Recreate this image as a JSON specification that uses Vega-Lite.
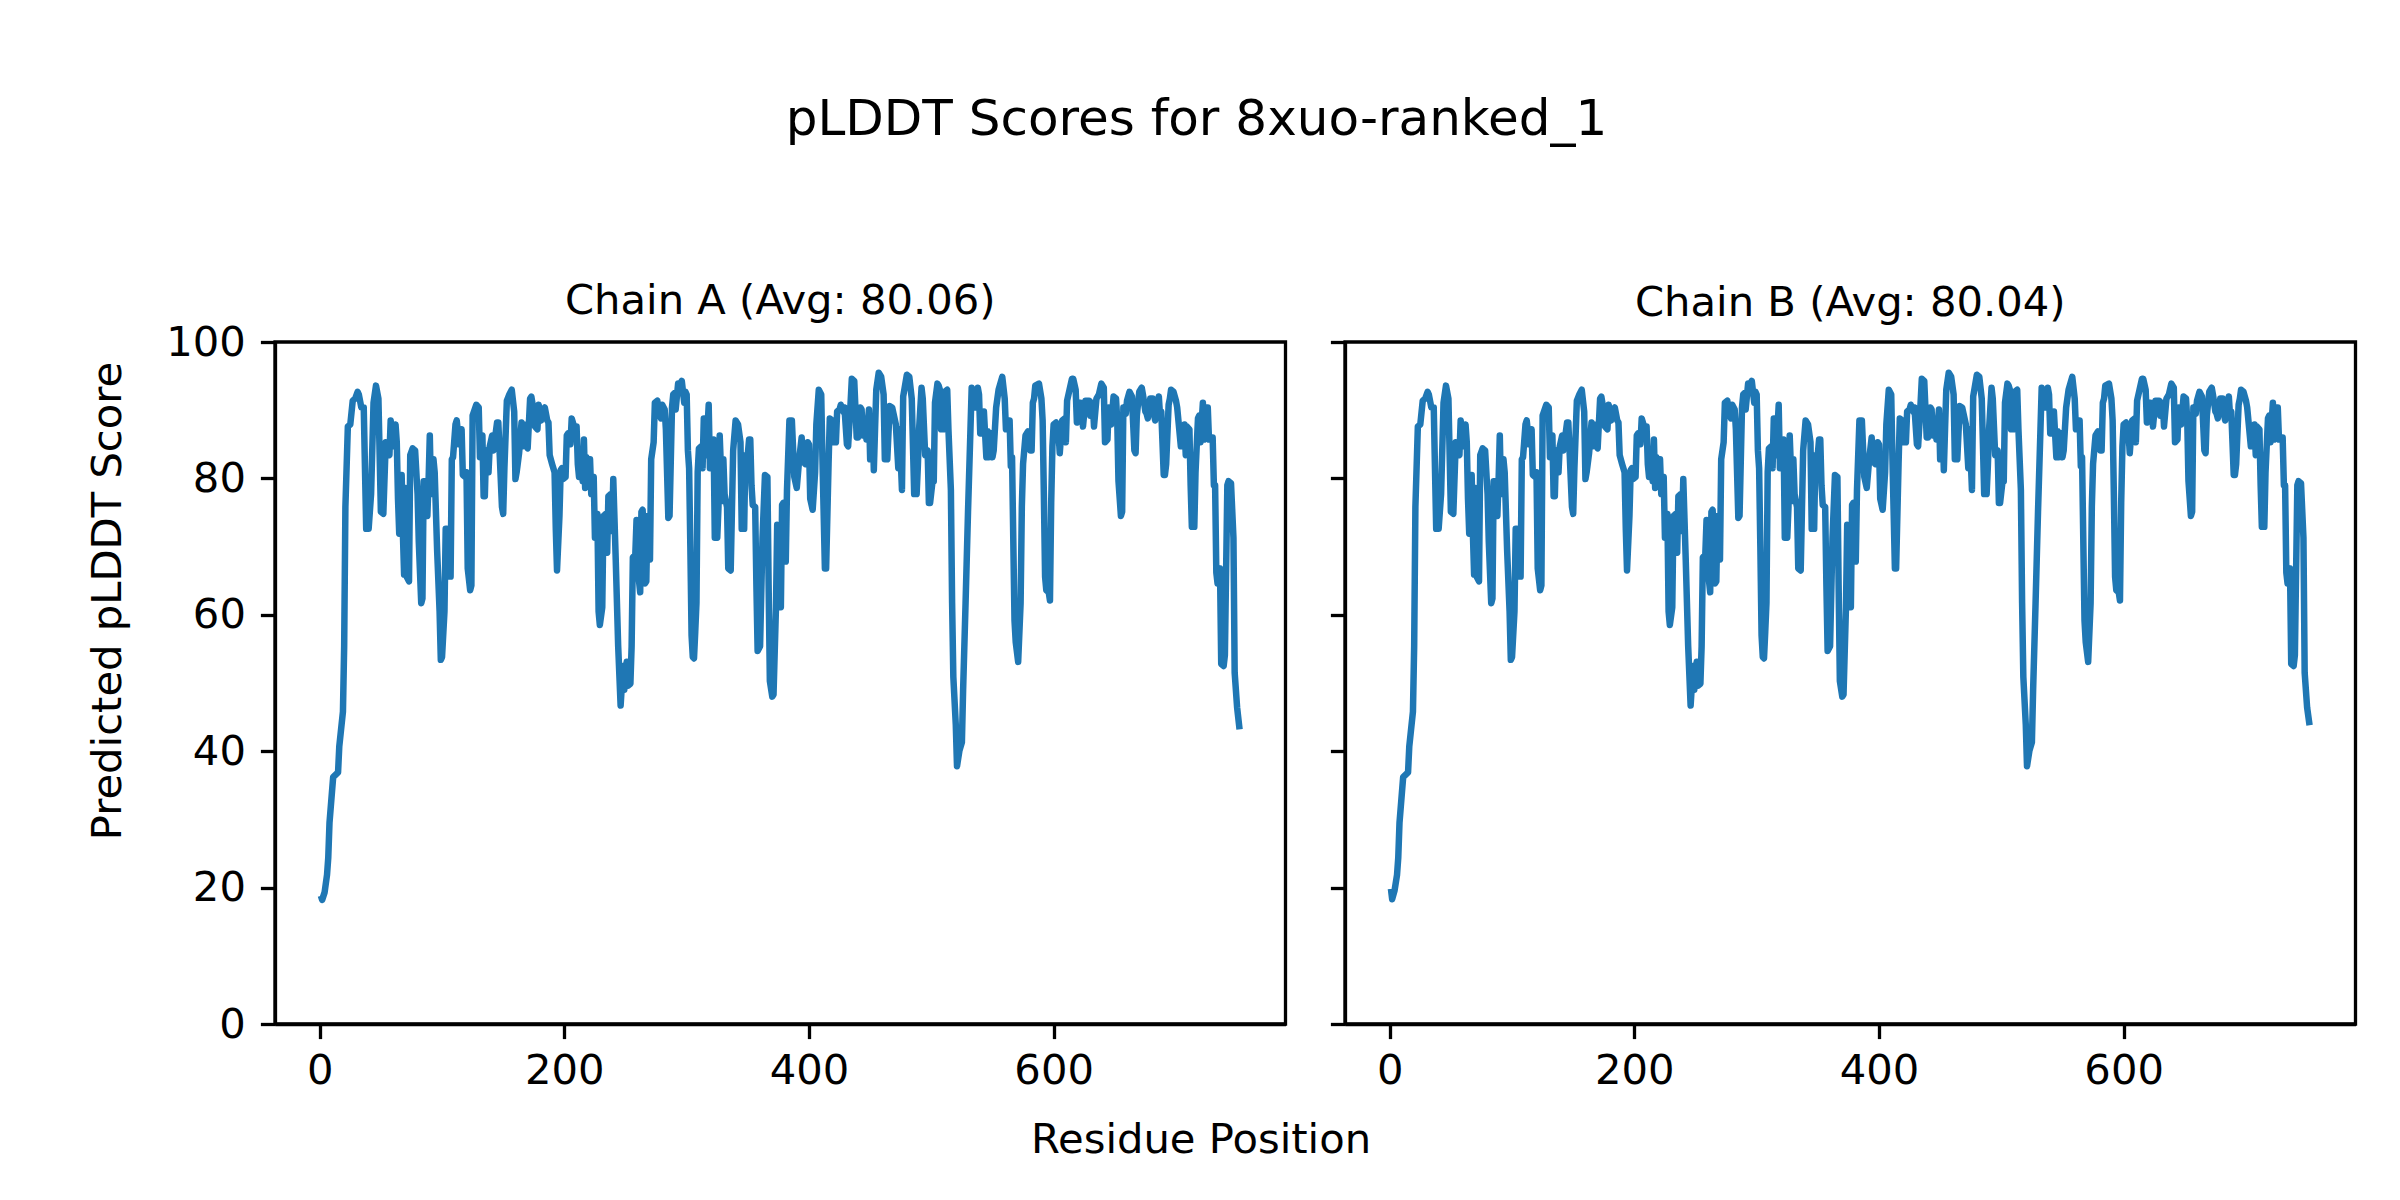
{
  "$schema": "https://vega.github.io/schema/vega-lite/v6.json",
  "background": "white",
  "padding": {"left": 85, "top": 95, "right": 40, "bottom": 40},
  "title": {"text": "pLDDT Scores for 8xuo-ranked_1", "fontSize": 50, "font": "DejaVu Sans", "fontWeight": "normal", "color": "black", "anchor": "middle", "baseline": "alphabetic", "offset": 94, "dx": -25},
  "bounds": "flush",
  "spacing": 59,
  "datasets": {
    "A": [
{"residue":1,"plddt":18.8},{"residue":2,"plddt":18.2},{"residue":4,"plddt":19.3},{"residue":6,"plddt":21.9},{"residue":7,"plddt":24.4},{"residue":8,"plddt":29.5},{"residue":11,"plddt":36.2},{"residue":15,"plddt":36.9},{"residue":16,"plddt":40.7},{"residue":19,"plddt":45.8},{"residue":20,"plddt":55.4},{"residue":21,"plddt":75.8},{"residue":23,"plddt":87.6},{"residue":25,"plddt":87.9},{"residue":27,"plddt":91.4},{"residue":29,"plddt":91.7},{"residue":31,"plddt":92.7},{"residue":32,"plddt":92.3},{"residue":34,"plddt":90.4},{"residue":36,"plddt":90.4},{"residue":38,"plddt":72.6},{"residue":40,"plddt":72.6},{"residue":42,"plddt":77.7},{"residue":44,"plddt":91.1},{"residue":46,"plddt":93.6},{"residue":48,"plddt":91.7},{"residue":50,"plddt":75.1},{"residue":52,"plddt":74.8},{"residue":54,"plddt":85.3},{"residue":55,"plddt":85.0},{"residue":57,"plddt":83.4},{"residue":58,"plddt":88.5},{"residue":60,"plddt":84.7},{"residue":62,"plddt":87.9},{"residue":63,"plddt":85.3},{"residue":64,"plddt":77.0},{"residue":65,"plddt":71.9},{"residue":67,"plddt":80.5},{"residue":68,"plddt":71.9},{"residue":69,"plddt":65.9},{"residue":70,"plddt":78.6},{"residue":71,"plddt":65.6},{"residue":73,"plddt":64.9},{"residue":74,"plddt":83.4},{"residue":76,"plddt":84.4},{"residue":78,"plddt":84.1},{"residue":80,"plddt":77.7},{"residue":81,"plddt":70.7},{"residue":83,"plddt":61.7},{"residue":84,"plddt":62.4},{"residue":85,"plddt":79.6},{"residue":87,"plddt":79.6},{"residue":88,"plddt":74.5},{"residue":89,"plddt":79.6},{"residue":90,"plddt":86.3},{"residue":91,"plddt":77.7},{"residue":93,"plddt":82.8},{"residue":94,"plddt":80.9},{"residue":96,"plddt":69.4},{"residue":98,"plddt":60.5},{"residue":99,"plddt":53.4},{"residue":100,"plddt":53.8},{"residue":102,"plddt":60.5},{"residue":103,"plddt":72.6},{"residue":104,"plddt":72.6},{"residue":106,"plddt":65.6},{"residue":107,"plddt":65.6},{"residue":108,"plddt":82.8},{"residue":109,"plddt":83.1},{"residue":111,"plddt":87.9},{"residue":112,"plddt":88.5},{"residue":114,"plddt":85.0},{"residue":116,"plddt":87.2},{"residue":117,"plddt":80.5},{"residue":119,"plddt":80.2},{"residue":120,"plddt":80.9},{"residue":121,"plddt":66.8},{"residue":123,"plddt":63.6},{"residue":124,"plddt":64.3},{"residue":125,"plddt":89.2},{"residue":128,"plddt":90.8},{"residue":130,"plddt":90.4},{"residue":131,"plddt":83.1},{"residue":133,"plddt":86.3},{"residue":134,"plddt":77.4},{"residue":135,"plddt":77.4},{"residue":136,"plddt":84.1},{"residue":138,"plddt":80.9},{"residue":139,"plddt":84.7},{"residue":141,"plddt":86.3},{"residue":142,"plddt":84.1},{"residue":145,"plddt":88.2},{"residue":146,"plddt":88.2},{"residue":147,"plddt":84.1},{"residue":149,"plddt":75.8},{"residue":150,"plddt":74.8},{"residue":151,"plddt":81.5},{"residue":153,"plddt":91.4},{"residue":155,"plddt":92.3},{"residue":157,"plddt":93.0},{"residue":159,"plddt":89.8},{"residue":160,"plddt":79.9},{"residue":161,"plddt":80.9},{"residue":163,"plddt":83.7},{"residue":165,"plddt":88.2},{"residue":166,"plddt":84.7},{"residue":167,"plddt":87.9},{"residue":169,"plddt":84.7},{"residue":170,"plddt":84.4},{"residue":172,"plddt":91.7},{"residue":173,"plddt":92.0},{"residue":175,"plddt":89.8},{"residue":176,"plddt":87.6},{"residue":178,"plddt":87.2},{"residue":179,"plddt":90.8},{"residue":181,"plddt":88.5},{"residue":182,"plddt":89.8},{"residue":184,"plddt":90.4},{"residue":186,"plddt":88.5},{"residue":187,"plddt":88.2},{"residue":188,"plddt":83.4},{"residue":190,"plddt":82.1},{"residue":192,"plddt":80.9},{"residue":193,"plddt":72.6},{"residue":194,"plddt":66.5},{"residue":196,"plddt":74.5},{"residue":197,"plddt":81.2},{"residue":198,"plddt":81.5},{"residue":199,"plddt":79.9},{"residue":201,"plddt":80.2},{"residue":202,"plddt":86.3},{"residue":203,"plddt":86.6},{"residue":205,"plddt":85.0},{"residue":206,"plddt":88.8},{"residue":208,"plddt":87.6},{"residue":210,"plddt":87.6},{"residue":211,"plddt":82.1},{"residue":212,"plddt":80.2},{"residue":213,"plddt":83.1},{"residue":215,"plddt":79.6},{"residue":216,"plddt":85.7},{"residue":217,"plddt":78.6},{"residue":218,"plddt":83.1},{"residue":220,"plddt":79.0},{"residue":221,"plddt":82.8},{"residue":222,"plddt":77.7},{"residue":224,"plddt":80.2},{"residue":225,"plddt":71.3},{"residue":227,"plddt":74.8},{"residue":228,"plddt":60.5},{"residue":229,"plddt":58.5},{"residue":231,"plddt":61.1},{"residue":232,"plddt":74.5},{"residue":234,"plddt":74.8},{"residue":235,"plddt":69.1},{"residue":236,"plddt":77.4},{"residue":238,"plddt":77.7},{"residue":239,"plddt":72.3},{"residue":240,"plddt":79.9},{"residue":242,"plddt":68.1},{"residue":244,"plddt":55.4},{"residue":246,"plddt":46.7},{"residue":248,"plddt":52.5},{"residue":249,"plddt":49.0},{"residue":251,"plddt":53.1},{"residue":252,"plddt":49.6},{"residue":254,"plddt":49.9},{"residue":255,"plddt":55.4},{"residue":256,"plddt":68.4},{"residue":258,"plddt":68.8},{"residue":259,"plddt":73.9},{"residue":260,"plddt":66.8},{"residue":262,"plddt":63.3},{"residue":263,"plddt":75.1},{"residue":264,"plddt":75.4},{"residue":266,"plddt":64.6},{"residue":267,"plddt":64.9},{"residue":268,"plddt":74.5},{"residue":270,"plddt":68.1},{"residue":271,"plddt":82.8},{"residue":273,"plddt":85.3},{"residue":274,"plddt":91.1},{"residue":276,"plddt":91.4},{"residue":277,"plddt":89.8},{"residue":279,"plddt":88.8},{"residue":280,"plddt":90.8},{"residue":282,"plddt":90.1},{"residue":283,"plddt":87.2},{"residue":285,"plddt":74.2},{"residue":286,"plddt":74.5},{"residue":288,"plddt":90.4},{"residue":289,"plddt":92.3},{"residue":290,"plddt":92.5},{"residue":291,"plddt":90.1},{"residue":293,"plddt":93.9},{"residue":295,"plddt":93.9},{"residue":296,"plddt":94.3},{"residue":298,"plddt":91.1},{"residue":299,"plddt":92.7},{"residue":300,"plddt":92.3},{"residue":301,"plddt":84.1},{"residue":302,"plddt":81.5},{"residue":303,"plddt":70.0},{"residue":304,"plddt":57.0},{"residue":305,"plddt":53.8},{"residue":306,"plddt":53.6},{"residue":307,"plddt":57.5},{"residue":308,"plddt":61.7},{"residue":309,"plddt":80.9},{"residue":310,"plddt":84.4},{"residue":312,"plddt":84.7},{"residue":313,"plddt":81.5},{"residue":314,"plddt":88.8},{"residue":315,"plddt":88.8},{"residue":316,"plddt":83.4},{"residue":317,"plddt":87.2},{"residue":318,"plddt":90.8},{"residue":319,"plddt":81.5},{"residue":321,"plddt":82.1},{"residue":322,"plddt":85.7},{"residue":323,"plddt":71.3},{"residue":325,"plddt":71.3},{"residue":326,"plddt":75.8},{"residue":327,"plddt":86.3},{"residue":329,"plddt":76.7},{"residue":330,"plddt":82.8},{"residue":331,"plddt":77.7},{"residue":333,"plddt":75.8},{"residue":334,"plddt":66.8},{"residue":336,"plddt":66.5},{"residue":338,"plddt":84.1},{"residue":340,"plddt":88.5},{"residue":342,"plddt":87.9},{"residue":344,"plddt":85.3},{"residue":345,"plddt":72.6},{"residue":347,"plddt":72.6},{"residue":348,"plddt":83.4},{"residue":349,"plddt":81.5},{"residue":351,"plddt":85.7},{"residue":352,"plddt":85.7},{"residue":353,"plddt":79.0},{"residue":354,"plddt":76.1},{"residue":356,"plddt":75.8},{"residue":357,"plddt":64.3},{"residue":358,"plddt":54.7},{"residue":360,"plddt":55.4},{"residue":362,"plddt":71.3},{"residue":364,"plddt":80.5},{"residue":366,"plddt":80.2},{"residue":367,"plddt":64.3},{"residue":368,"plddt":50.3},{"residue":370,"plddt":48.0},{"residue":371,"plddt":48.3},{"residue":373,"plddt":61.1},{"residue":374,"plddt":73.2},{"residue":375,"plddt":72.9},{"residue":377,"plddt":61.1},{"residue":378,"plddt":76.1},{"residue":379,"plddt":76.4},{"residue":381,"plddt":67.8},{"residue":382,"plddt":78.3},{"residue":384,"plddt":88.5},{"residue":386,"plddt":88.5},{"residue":388,"plddt":80.2},{"residue":390,"plddt":78.6},{"residue":392,"plddt":82.8},{"residue":394,"plddt":86.0},{"residue":395,"plddt":82.5},{"residue":397,"plddt":82.1},{"residue":399,"plddt":85.3},{"residue":400,"plddt":85.0},{"residue":401,"plddt":77.0},{"residue":403,"plddt":75.4},{"residue":405,"plddt":80.9},{"residue":406,"plddt":87.9},{"residue":408,"plddt":93.0},{"residue":410,"plddt":92.3},{"residue":411,"plddt":82.8},{"residue":413,"plddt":66.8},{"residue":414,"plddt":66.8},{"residue":416,"plddt":82.1},{"residue":417,"plddt":88.8},{"residue":419,"plddt":88.5},{"residue":420,"plddt":85.3},{"residue":422,"plddt":85.3},{"residue":423,"plddt":89.8},{"residue":425,"plddt":90.1},{"residue":426,"plddt":90.8},{"residue":428,"plddt":89.8},{"residue":429,"plddt":90.4},{"residue":431,"plddt":85.0},{"residue":432,"plddt":84.7},{"residue":434,"plddt":91.1},{"residue":435,"plddt":94.6},{"residue":437,"plddt":94.3},{"residue":439,"plddt":86.0},{"residue":440,"plddt":86.0},{"residue":442,"plddt":90.4},{"residue":443,"plddt":90.1},{"residue":444,"plddt":86.3},{"residue":446,"plddt":87.6},{"residue":447,"plddt":85.7},{"residue":449,"plddt":90.1},{"residue":450,"plddt":82.8},{"residue":452,"plddt":88.5},{"residue":453,"plddt":81.2},{"residue":454,"plddt":87.2},{"residue":455,"plddt":93.0},{"residue":457,"plddt":95.5},{"residue":459,"plddt":94.9},{"residue":461,"plddt":92.3},{"residue":462,"plddt":82.8},{"residue":464,"plddt":82.8},{"residue":466,"plddt":90.6},{"residue":468,"plddt":90.4},{"residue":471,"plddt":87.9},{"residue":473,"plddt":81.5},{"residue":474,"plddt":87.2},{"residue":476,"plddt":78.3},{"residue":477,"plddt":92.0},{"residue":480,"plddt":95.2},{"residue":482,"plddt":94.9},{"residue":484,"plddt":91.7},{"residue":486,"plddt":77.7},{"residue":488,"plddt":77.7},{"residue":489,"plddt":81.8},{"residue":490,"plddt":87.2},{"residue":492,"plddt":93.3},{"residue":493,"plddt":91.7},{"residue":495,"plddt":83.4},{"residue":497,"plddt":84.1},{"residue":498,"plddt":76.4},{"residue":499,"plddt":76.4},{"residue":501,"plddt":79.6},{"residue":502,"plddt":79.6},{"residue":503,"plddt":91.1},{"residue":505,"plddt":93.9},{"residue":506,"plddt":93.6},{"residue":507,"plddt":93.0},{"residue":508,"plddt":87.2},{"residue":510,"plddt":87.2},{"residue":511,"plddt":92.7},{"residue":513,"plddt":93.0},{"residue":514,"plddt":87.2},{"residue":516,"plddt":78.3},{"residue":517,"plddt":61.7},{"residue":518,"plddt":50.9},{"residue":520,"plddt":43.9},{"residue":521,"plddt":37.8},{"residue":523,"plddt":40.1},{"residue":525,"plddt":41.3},{"residue":526,"plddt":49.0},{"residue":528,"plddt":61.7},{"residue":530,"plddt":75.1},{"residue":532,"plddt":87.2},{"residue":533,"plddt":93.3},{"residue":535,"plddt":90.4},{"residue":536,"plddt":90.4},{"residue":538,"plddt":93.3},{"residue":539,"plddt":92.3},{"residue":540,"plddt":86.6},{"residue":542,"plddt":86.6},{"residue":543,"plddt":89.8},{"residue":545,"plddt":83.1},{"residue":546,"plddt":86.9},{"residue":547,"plddt":83.1},{"residue":549,"plddt":86.6},{"residue":550,"plddt":83.1},{"residue":551,"plddt":84.1},{"residue":553,"plddt":90.4},{"residue":555,"plddt":93.0},{"residue":558,"plddt":94.9},{"residue":560,"plddt":91.7},{"residue":561,"plddt":87.2},{"residue":562,"plddt":88.5},{"residue":564,"plddt":88.5},{"residue":565,"plddt":81.8},{"residue":566,"plddt":83.1},{"residue":568,"plddt":59.2},{"residue":569,"plddt":56.0},{"residue":571,"plddt":53.1},{"residue":573,"plddt":61.7},{"residue":574,"plddt":75.8},{"residue":575,"plddt":82.1},{"residue":577,"plddt":86.3},{"residue":578,"plddt":86.6},{"residue":579,"plddt":86.9},{"residue":581,"plddt":84.1},{"residue":582,"plddt":84.1},{"residue":583,"plddt":91.1},{"residue":584,"plddt":91.7},{"residue":585,"plddt":93.6},{"residue":588,"plddt":93.9},{"residue":590,"plddt":91.7},{"residue":591,"plddt":88.5},{"residue":592,"plddt":77.7},{"residue":593,"plddt":65.6},{"residue":594,"plddt":63.6},{"residue":596,"plddt":63.3},{"residue":597,"plddt":62.1},{"residue":598,"plddt":76.4},{"residue":599,"plddt":84.7},{"residue":600,"plddt":87.9},{"residue":602,"plddt":88.2},{"residue":604,"plddt":86.6},{"residue":605,"plddt":83.7},{"residue":607,"plddt":88.5},{"residue":609,"plddt":88.8},{"residue":610,"plddt":85.3},{"residue":611,"plddt":91.4},{"residue":613,"plddt":93.0},{"residue":615,"plddt":94.6},{"residue":616,"plddt":94.6},{"residue":618,"plddt":93.0},{"residue":619,"plddt":88.2},{"residue":621,"plddt":91.1},{"residue":622,"plddt":91.1},{"residue":624,"plddt":87.6},{"residue":626,"plddt":91.4},{"residue":629,"plddt":91.4},{"residue":630,"plddt":89.2},{"residue":632,"plddt":91.1},{"residue":633,"plddt":87.6},{"residue":635,"plddt":91.7},{"residue":637,"plddt":92.3},{"residue":639,"plddt":93.9},{"residue":641,"plddt":93.3},{"residue":642,"plddt":85.3},{"residue":644,"plddt":85.7},{"residue":645,"plddt":90.4},{"residue":647,"plddt":87.9},{"residue":649,"plddt":92.0},{"residue":651,"plddt":91.7},{"residue":652,"plddt":88.5},{"residue":653,"plddt":79.6},{"residue":655,"plddt":74.5},{"residue":656,"plddt":75.1},{"residue":657,"plddt":90.4},{"residue":659,"plddt":89.5},{"residue":660,"plddt":91.4},{"residue":662,"plddt":92.7},{"residue":664,"plddt":92.0},{"residue":666,"plddt":84.1},{"residue":667,"plddt":83.7},{"residue":668,"plddt":89.2},{"residue":670,"plddt":92.7},{"residue":672,"plddt":93.3},{"residue":673,"plddt":92.3},{"residue":675,"plddt":89.8},{"residue":676,"plddt":89.5},{"residue":677,"plddt":88.8},{"residue":679,"plddt":91.7},{"residue":681,"plddt":91.7},{"residue":682,"plddt":89.5},{"residue":683,"plddt":88.5},{"residue":686,"plddt":92.0},{"residue":687,"plddt":89.2},{"residue":688,"plddt":89.8},{"residue":690,"plddt":80.5},{"residue":691,"plddt":80.5},{"residue":692,"plddt":82.1},{"residue":694,"plddt":90.8},{"residue":695,"plddt":91.7},{"residue":696,"plddt":93.0},{"residue":698,"plddt":92.7},{"residue":700,"plddt":91.4},{"residue":701,"plddt":90.4},{"residue":702,"plddt":88.5},{"residue":704,"plddt":84.7},{"residue":705,"plddt":84.7},{"residue":707,"plddt":87.9},{"residue":708,"plddt":83.4},{"residue":709,"plddt":87.6},{"residue":711,"plddt":87.2},{"residue":712,"plddt":79.0},{"residue":713,"plddt":72.9},{"residue":715,"plddt":72.9},{"residue":716,"plddt":80.9},{"residue":718,"plddt":88.8},{"residue":719,"plddt":89.2},{"residue":720,"plddt":85.3},{"residue":722,"plddt":91.1},{"residue":723,"plddt":85.7},{"residue":724,"plddt":90.4},{"residue":726,"plddt":90.4},{"residue":727,"plddt":85.7},{"residue":728,"plddt":86.0},{"residue":730,"plddt":86.0},{"residue":731,"plddt":79.0},{"residue":732,"plddt":79.0},{"residue":733,"plddt":66.2},{"residue":734,"plddt":64.6},{"residue":736,"plddt":66.8},{"residue":737,"plddt":52.8},{"residue":739,"plddt":52.5},{"residue":740,"plddt":54.1},{"residue":742,"plddt":79.0},{"residue":743,"plddt":79.6},{"residue":745,"plddt":79.3},{"residue":747,"plddt":71.3},{"residue":748,"plddt":51.5},{"residue":750,"plddt":46.4},{"residue":752,"plddt":43.2}
    ],
    "B": [
{"residue":1,"plddt":19.8},{"residue":2,"plddt":18.3},{"residue":4,"plddt":19.6},{"residue":6,"plddt":21.9},{"residue":7,"plddt":24.4},{"residue":8,"plddt":29.5},{"residue":11,"plddt":36.2},{"residue":15,"plddt":36.9},{"residue":16,"plddt":40.7},{"residue":19,"plddt":45.8},{"residue":20,"plddt":55.4},{"residue":21,"plddt":75.8},{"residue":23,"plddt":87.6},{"residue":25,"plddt":87.9},{"residue":27,"plddt":91.4},{"residue":29,"plddt":91.7},{"residue":31,"plddt":92.7},{"residue":32,"plddt":92.3},{"residue":34,"plddt":90.4},{"residue":36,"plddt":90.4},{"residue":38,"plddt":72.6},{"residue":40,"plddt":72.6},{"residue":42,"plddt":77.7},{"residue":44,"plddt":91.1},{"residue":46,"plddt":93.6},{"residue":48,"plddt":91.7},{"residue":50,"plddt":75.1},{"residue":52,"plddt":74.8},{"residue":54,"plddt":85.3},{"residue":55,"plddt":85.0},{"residue":57,"plddt":83.4},{"residue":58,"plddt":88.5},{"residue":60,"plddt":84.7},{"residue":62,"plddt":87.9},{"residue":63,"plddt":85.3},{"residue":64,"plddt":77.0},{"residue":65,"plddt":71.9},{"residue":67,"plddt":80.5},{"residue":68,"plddt":71.9},{"residue":69,"plddt":65.9},{"residue":70,"plddt":78.6},{"residue":71,"plddt":65.6},{"residue":73,"plddt":64.9},{"residue":74,"plddt":83.4},{"residue":76,"plddt":84.4},{"residue":78,"plddt":84.1},{"residue":80,"plddt":77.7},{"residue":81,"plddt":70.7},{"residue":83,"plddt":61.7},{"residue":84,"plddt":62.4},{"residue":85,"plddt":79.6},{"residue":87,"plddt":79.6},{"residue":88,"plddt":74.5},{"residue":89,"plddt":79.6},{"residue":90,"plddt":86.3},{"residue":91,"plddt":77.7},{"residue":93,"plddt":82.8},{"residue":94,"plddt":80.9},{"residue":96,"plddt":69.4},{"residue":98,"plddt":60.5},{"residue":99,"plddt":53.4},{"residue":100,"plddt":53.8},{"residue":102,"plddt":60.5},{"residue":103,"plddt":72.6},{"residue":104,"plddt":72.6},{"residue":106,"plddt":65.6},{"residue":107,"plddt":65.6},{"residue":108,"plddt":82.8},{"residue":109,"plddt":83.1},{"residue":111,"plddt":87.9},{"residue":112,"plddt":88.5},{"residue":114,"plddt":85.0},{"residue":116,"plddt":87.2},{"residue":117,"plddt":80.5},{"residue":119,"plddt":80.2},{"residue":120,"plddt":80.9},{"residue":121,"plddt":66.8},{"residue":123,"plddt":63.6},{"residue":124,"plddt":64.3},{"residue":125,"plddt":89.2},{"residue":128,"plddt":90.8},{"residue":130,"plddt":90.4},{"residue":131,"plddt":83.1},{"residue":133,"plddt":86.3},{"residue":134,"plddt":77.4},{"residue":135,"plddt":77.4},{"residue":136,"plddt":84.1},{"residue":138,"plddt":80.9},{"residue":139,"plddt":84.7},{"residue":141,"plddt":86.3},{"residue":142,"plddt":84.1},{"residue":145,"plddt":88.2},{"residue":146,"plddt":88.2},{"residue":147,"plddt":84.1},{"residue":149,"plddt":75.8},{"residue":150,"plddt":74.8},{"residue":151,"plddt":81.5},{"residue":153,"plddt":91.4},{"residue":155,"plddt":92.3},{"residue":157,"plddt":93.0},{"residue":159,"plddt":89.8},{"residue":160,"plddt":79.9},{"residue":161,"plddt":80.9},{"residue":163,"plddt":83.7},{"residue":165,"plddt":88.2},{"residue":166,"plddt":84.7},{"residue":167,"plddt":87.9},{"residue":169,"plddt":84.7},{"residue":170,"plddt":84.4},{"residue":172,"plddt":91.7},{"residue":173,"plddt":92.0},{"residue":175,"plddt":89.8},{"residue":176,"plddt":87.6},{"residue":178,"plddt":87.2},{"residue":179,"plddt":90.8},{"residue":181,"plddt":88.5},{"residue":182,"plddt":89.8},{"residue":184,"plddt":90.4},{"residue":186,"plddt":88.5},{"residue":187,"plddt":88.2},{"residue":188,"plddt":83.4},{"residue":190,"plddt":82.1},{"residue":192,"plddt":80.9},{"residue":193,"plddt":72.6},{"residue":194,"plddt":66.5},{"residue":196,"plddt":74.5},{"residue":197,"plddt":81.2},{"residue":198,"plddt":81.5},{"residue":199,"plddt":79.9},{"residue":201,"plddt":80.2},{"residue":202,"plddt":86.3},{"residue":203,"plddt":86.6},{"residue":205,"plddt":85.0},{"residue":206,"plddt":88.8},{"residue":208,"plddt":87.6},{"residue":210,"plddt":87.6},{"residue":211,"plddt":82.1},{"residue":212,"plddt":80.2},{"residue":213,"plddt":83.1},{"residue":215,"plddt":79.6},{"residue":216,"plddt":85.7},{"residue":217,"plddt":78.6},{"residue":218,"plddt":83.1},{"residue":220,"plddt":79.0},{"residue":221,"plddt":82.8},{"residue":222,"plddt":77.7},{"residue":224,"plddt":80.2},{"residue":225,"plddt":71.3},{"residue":227,"plddt":74.8},{"residue":228,"plddt":60.5},{"residue":229,"plddt":58.5},{"residue":231,"plddt":61.1},{"residue":232,"plddt":74.5},{"residue":234,"plddt":74.8},{"residue":235,"plddt":69.1},{"residue":236,"plddt":77.4},{"residue":238,"plddt":77.7},{"residue":239,"plddt":72.3},{"residue":240,"plddt":79.9},{"residue":242,"plddt":68.1},{"residue":244,"plddt":55.4},{"residue":246,"plddt":46.7},{"residue":248,"plddt":52.5},{"residue":249,"plddt":49.0},{"residue":251,"plddt":53.1},{"residue":252,"plddt":49.6},{"residue":254,"plddt":49.9},{"residue":255,"plddt":55.4},{"residue":256,"plddt":68.4},{"residue":258,"plddt":68.8},{"residue":259,"plddt":73.9},{"residue":260,"plddt":66.8},{"residue":262,"plddt":63.3},{"residue":263,"plddt":75.1},{"residue":264,"plddt":75.4},{"residue":266,"plddt":64.6},{"residue":267,"plddt":64.9},{"residue":268,"plddt":74.5},{"residue":270,"plddt":68.1},{"residue":271,"plddt":82.8},{"residue":273,"plddt":85.3},{"residue":274,"plddt":91.1},{"residue":276,"plddt":91.4},{"residue":277,"plddt":89.8},{"residue":279,"plddt":88.8},{"residue":280,"plddt":90.8},{"residue":282,"plddt":90.1},{"residue":283,"plddt":87.2},{"residue":285,"plddt":74.2},{"residue":286,"plddt":74.5},{"residue":288,"plddt":90.4},{"residue":289,"plddt":92.3},{"residue":290,"plddt":92.5},{"residue":291,"plddt":90.1},{"residue":293,"plddt":93.9},{"residue":295,"plddt":93.9},{"residue":296,"plddt":94.3},{"residue":298,"plddt":91.1},{"residue":299,"plddt":92.7},{"residue":300,"plddt":92.3},{"residue":301,"plddt":84.1},{"residue":302,"plddt":81.5},{"residue":303,"plddt":70.0},{"residue":304,"plddt":57.0},{"residue":305,"plddt":53.8},{"residue":306,"plddt":53.6},{"residue":307,"plddt":57.5},{"residue":308,"plddt":61.7},{"residue":309,"plddt":80.9},{"residue":310,"plddt":84.4},{"residue":312,"plddt":84.7},{"residue":313,"plddt":81.5},{"residue":314,"plddt":88.8},{"residue":315,"plddt":88.8},{"residue":316,"plddt":83.4},{"residue":317,"plddt":87.2},{"residue":318,"plddt":90.8},{"residue":319,"plddt":81.5},{"residue":321,"plddt":82.1},{"residue":322,"plddt":85.7},{"residue":323,"plddt":71.3},{"residue":325,"plddt":71.3},{"residue":326,"plddt":75.8},{"residue":327,"plddt":86.3},{"residue":329,"plddt":76.7},{"residue":330,"plddt":82.8},{"residue":331,"plddt":77.7},{"residue":333,"plddt":75.8},{"residue":334,"plddt":66.8},{"residue":336,"plddt":66.5},{"residue":338,"plddt":84.1},{"residue":340,"plddt":88.5},{"residue":342,"plddt":87.9},{"residue":344,"plddt":85.3},{"residue":345,"plddt":72.6},{"residue":347,"plddt":72.6},{"residue":348,"plddt":83.4},{"residue":349,"plddt":81.5},{"residue":351,"plddt":85.7},{"residue":352,"plddt":85.7},{"residue":353,"plddt":79.0},{"residue":354,"plddt":76.1},{"residue":356,"plddt":75.8},{"residue":357,"plddt":64.3},{"residue":358,"plddt":54.7},{"residue":360,"plddt":55.4},{"residue":362,"plddt":71.3},{"residue":364,"plddt":80.5},{"residue":366,"plddt":80.2},{"residue":367,"plddt":64.3},{"residue":368,"plddt":50.3},{"residue":370,"plddt":48.0},{"residue":371,"plddt":48.3},{"residue":373,"plddt":61.1},{"residue":374,"plddt":73.2},{"residue":375,"plddt":72.9},{"residue":377,"plddt":61.1},{"residue":378,"plddt":76.1},{"residue":379,"plddt":76.4},{"residue":381,"plddt":67.8},{"residue":382,"plddt":78.3},{"residue":384,"plddt":88.5},{"residue":386,"plddt":88.5},{"residue":388,"plddt":80.2},{"residue":390,"plddt":78.6},{"residue":392,"plddt":82.8},{"residue":394,"plddt":86.0},{"residue":395,"plddt":82.5},{"residue":397,"plddt":82.1},{"residue":399,"plddt":85.3},{"residue":400,"plddt":85.0},{"residue":401,"plddt":77.0},{"residue":403,"plddt":75.4},{"residue":405,"plddt":80.9},{"residue":406,"plddt":87.9},{"residue":408,"plddt":93.0},{"residue":410,"plddt":92.3},{"residue":411,"plddt":82.8},{"residue":413,"plddt":66.8},{"residue":414,"plddt":66.8},{"residue":416,"plddt":82.1},{"residue":417,"plddt":88.8},{"residue":419,"plddt":88.5},{"residue":420,"plddt":85.3},{"residue":422,"plddt":85.3},{"residue":423,"plddt":89.8},{"residue":425,"plddt":90.1},{"residue":426,"plddt":90.8},{"residue":428,"plddt":89.8},{"residue":429,"plddt":90.4},{"residue":431,"plddt":85.0},{"residue":432,"plddt":84.7},{"residue":434,"plddt":91.1},{"residue":435,"plddt":94.6},{"residue":437,"plddt":94.3},{"residue":439,"plddt":86.0},{"residue":440,"plddt":86.0},{"residue":442,"plddt":90.4},{"residue":443,"plddt":90.1},{"residue":444,"plddt":86.3},{"residue":446,"plddt":87.6},{"residue":447,"plddt":85.7},{"residue":449,"plddt":90.1},{"residue":450,"plddt":82.8},{"residue":452,"plddt":88.5},{"residue":453,"plddt":81.2},{"residue":454,"plddt":87.2},{"residue":455,"plddt":93.0},{"residue":457,"plddt":95.5},{"residue":459,"plddt":94.9},{"residue":461,"plddt":92.3},{"residue":462,"plddt":82.8},{"residue":464,"plddt":82.8},{"residue":466,"plddt":90.6},{"residue":468,"plddt":90.4},{"residue":471,"plddt":87.9},{"residue":473,"plddt":81.5},{"residue":474,"plddt":87.2},{"residue":476,"plddt":78.3},{"residue":477,"plddt":92.0},{"residue":480,"plddt":95.2},{"residue":482,"plddt":94.9},{"residue":484,"plddt":91.7},{"residue":486,"plddt":77.7},{"residue":488,"plddt":77.7},{"residue":489,"plddt":81.8},{"residue":490,"plddt":87.2},{"residue":492,"plddt":93.3},{"residue":493,"plddt":91.7},{"residue":495,"plddt":83.4},{"residue":497,"plddt":84.1},{"residue":498,"plddt":76.4},{"residue":499,"plddt":76.4},{"residue":501,"plddt":79.6},{"residue":502,"plddt":79.6},{"residue":503,"plddt":91.1},{"residue":505,"plddt":93.9},{"residue":506,"plddt":93.6},{"residue":507,"plddt":93.0},{"residue":508,"plddt":87.2},{"residue":510,"plddt":87.2},{"residue":511,"plddt":92.7},{"residue":513,"plddt":93.0},{"residue":514,"plddt":87.2},{"residue":516,"plddt":78.3},{"residue":517,"plddt":61.7},{"residue":518,"plddt":50.9},{"residue":520,"plddt":43.9},{"residue":521,"plddt":37.8},{"residue":523,"plddt":40.1},{"residue":525,"plddt":41.3},{"residue":526,"plddt":49.0},{"residue":528,"plddt":61.7},{"residue":530,"plddt":75.1},{"residue":532,"plddt":87.2},{"residue":533,"plddt":93.3},{"residue":535,"plddt":90.4},{"residue":536,"plddt":90.4},{"residue":538,"plddt":93.3},{"residue":539,"plddt":92.3},{"residue":540,"plddt":86.6},{"residue":542,"plddt":86.6},{"residue":543,"plddt":89.8},{"residue":545,"plddt":83.1},{"residue":546,"plddt":86.9},{"residue":547,"plddt":83.1},{"residue":549,"plddt":86.6},{"residue":550,"plddt":83.1},{"residue":551,"plddt":84.1},{"residue":553,"plddt":90.4},{"residue":555,"plddt":93.0},{"residue":558,"plddt":94.9},{"residue":560,"plddt":91.7},{"residue":561,"plddt":87.2},{"residue":562,"plddt":88.5},{"residue":564,"plddt":88.5},{"residue":565,"plddt":81.8},{"residue":566,"plddt":83.1},{"residue":568,"plddt":59.2},{"residue":569,"plddt":56.0},{"residue":571,"plddt":53.1},{"residue":573,"plddt":61.7},{"residue":574,"plddt":75.8},{"residue":575,"plddt":82.1},{"residue":577,"plddt":86.3},{"residue":578,"plddt":86.6},{"residue":579,"plddt":86.9},{"residue":581,"plddt":84.1},{"residue":582,"plddt":84.1},{"residue":583,"plddt":91.1},{"residue":584,"plddt":91.7},{"residue":585,"plddt":93.6},{"residue":588,"plddt":93.9},{"residue":590,"plddt":91.7},{"residue":591,"plddt":88.5},{"residue":592,"plddt":77.7},{"residue":593,"plddt":65.6},{"residue":594,"plddt":63.6},{"residue":596,"plddt":63.3},{"residue":597,"plddt":62.1},{"residue":598,"plddt":76.4},{"residue":599,"plddt":84.7},{"residue":600,"plddt":87.9},{"residue":602,"plddt":88.2},{"residue":604,"plddt":86.6},{"residue":605,"plddt":83.7},{"residue":607,"plddt":88.5},{"residue":609,"plddt":88.8},{"residue":610,"plddt":85.3},{"residue":611,"plddt":91.4},{"residue":613,"plddt":93.0},{"residue":615,"plddt":94.6},{"residue":616,"plddt":94.6},{"residue":618,"plddt":93.0},{"residue":619,"plddt":88.2},{"residue":621,"plddt":91.1},{"residue":622,"plddt":91.1},{"residue":624,"plddt":87.6},{"residue":626,"plddt":91.4},{"residue":629,"plddt":91.4},{"residue":630,"plddt":89.2},{"residue":632,"plddt":91.1},{"residue":633,"plddt":87.6},{"residue":635,"plddt":91.7},{"residue":637,"plddt":92.3},{"residue":639,"plddt":93.9},{"residue":641,"plddt":93.3},{"residue":642,"plddt":85.3},{"residue":644,"plddt":85.7},{"residue":645,"plddt":90.4},{"residue":647,"plddt":87.9},{"residue":649,"plddt":92.0},{"residue":651,"plddt":91.7},{"residue":652,"plddt":88.5},{"residue":653,"plddt":79.6},{"residue":655,"plddt":74.5},{"residue":656,"plddt":75.1},{"residue":657,"plddt":90.4},{"residue":659,"plddt":89.5},{"residue":660,"plddt":91.4},{"residue":662,"plddt":92.7},{"residue":664,"plddt":92.0},{"residue":666,"plddt":84.1},{"residue":667,"plddt":83.7},{"residue":668,"plddt":89.2},{"residue":670,"plddt":92.7},{"residue":672,"plddt":93.3},{"residue":673,"plddt":92.3},{"residue":675,"plddt":89.8},{"residue":676,"plddt":89.5},{"residue":677,"plddt":88.8},{"residue":679,"plddt":91.7},{"residue":681,"plddt":91.7},{"residue":682,"plddt":89.5},{"residue":683,"plddt":88.5},{"residue":686,"plddt":92.0},{"residue":687,"plddt":89.2},{"residue":688,"plddt":89.8},{"residue":690,"plddt":80.5},{"residue":691,"plddt":80.5},{"residue":692,"plddt":82.1},{"residue":694,"plddt":90.8},{"residue":695,"plddt":91.7},{"residue":696,"plddt":93.0},{"residue":698,"plddt":92.7},{"residue":700,"plddt":91.4},{"residue":701,"plddt":90.4},{"residue":702,"plddt":88.5},{"residue":704,"plddt":84.7},{"residue":705,"plddt":84.7},{"residue":707,"plddt":87.9},{"residue":708,"plddt":83.4},{"residue":709,"plddt":87.6},{"residue":711,"plddt":87.2},{"residue":712,"plddt":79.0},{"residue":713,"plddt":72.9},{"residue":715,"plddt":72.9},{"residue":716,"plddt":80.9},{"residue":718,"plddt":88.8},{"residue":719,"plddt":89.2},{"residue":720,"plddt":85.3},{"residue":722,"plddt":91.1},{"residue":723,"plddt":85.7},{"residue":724,"plddt":90.4},{"residue":726,"plddt":90.4},{"residue":727,"plddt":85.7},{"residue":728,"plddt":86.0},{"residue":730,"plddt":86.0},{"residue":731,"plddt":79.0},{"residue":732,"plddt":79.0},{"residue":733,"plddt":66.2},{"residue":734,"plddt":64.6},{"residue":736,"plddt":66.8},{"residue":737,"plddt":52.8},{"residue":739,"plddt":52.5},{"residue":740,"plddt":54.1},{"residue":742,"plddt":79.0},{"residue":743,"plddt":79.6},{"residue":745,"plddt":79.3},{"residue":747,"plddt":71.3},{"residue":748,"plddt":51.5},{"residue":750,"plddt":46.4},{"residue":752,"plddt":43.8}
    ]
  },
  "hconcat": [
    {
      "width": 1010.5,
      "height": 682,
      "data": {"name": "A"},
      "title": {"text": "Chain A (Avg: 80.06)", "offset": -0.5},
      "mark": {"type": "line", "color": "#1f77b4", "strokeWidth": 6.5, "strokeJoin": "round", "clip": true},
      "encoding": {
        "x": {"field": "residue", "type": "quantitative", "scale": {"domain": [-36.55, 789.55], "nice": false, "zero": false},
              "axis": {"values": [0, 200, 400, 600], "title": "Residue Position", "titleX": 925.5, "titleY": 128.5, "titleBaseline": "alphabetic", "titleAlign": "center"}},
        "y": {"field": "plddt", "type": "quantitative", "scale": {"domain": [0, 100], "nice": false, "zero": false},
              "axis": {"values": [0, 20, 40, 60, 80, 100], "title": "Predicted pLDDT Score", "titleX": -154.5, "titleY": 258.5, "titleBaseline": "alphabetic", "titleAlign": "center", "titleAngle": 270}}
      }
    },
    {
      "width": 1010.5,
      "height": 682,
      "data": {"name": "B"},
      "title": {"text": "Chain B (Avg: 80.04)", "offset": 15.5},
      "mark": {"type": "line", "color": "#1f77b4", "strokeWidth": 6.5, "strokeJoin": "round", "clip": true},
      "encoding": {
        "x": {"field": "residue", "type": "quantitative", "scale": {"domain": [-36.55, 789.55], "nice": false, "zero": false},
              "axis": {"values": [0, 200, 400, 600], "title": null}},
        "y": {"field": "plddt", "type": "quantitative", "scale": {"domain": [0, 100], "nice": false, "zero": false},
              "axis": {"values": [0, 20, 40, 60, 80, 100], "title": null, "labels": false}}
      }
    }
  ],
  "config": {
    "font": "DejaVu Sans",
    "view": {"stroke": "black", "strokeWidth": 3.3},
    "axis": {"grid": false, "domainColor": "black", "domainWidth": 3.3, "tickColor": "black", "tickWidth": 3.3, "tickSize": 14.6,
             "labelFontSize": 41.7, "labelColor": "black", "labelFont": "DejaVu Sans", "labelFlush": false,
             "titleFontSize": 41.7, "titleFontWeight": "normal", "titleColor": "black", "titleFont": "DejaVu Sans"},
    "axisX": {"labelPadding": 12},
    "axisY": {"labelPadding": 15},
    "title": {"fontSize": 41.7, "fontWeight": "normal", "color": "black", "font": "DejaVu Sans", "baseline": "alphabetic", "anchor": "middle"}
  }
}
